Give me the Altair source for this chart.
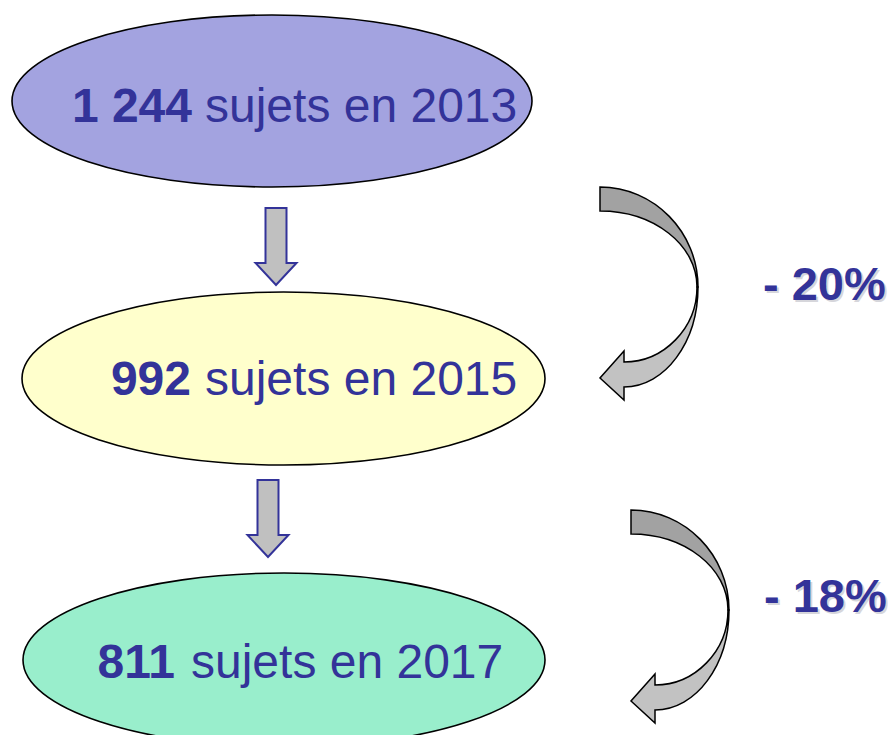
import altair as alt
import pandas as pd

# ---- data (values shown in the diagram) ----
counts = ["1 244", "992", "811"]
years = [2013, 2015, 2017]
changes = ["- 20%", "- 18%"]

# ---- styles ----
TEXT_COLOR = "#333399"
ELLIPSE_FILLS = ["#A3A3E0", "#FFFFCC", "#99EECC"]
FONT = "Liberation Sans"
FS = 48
FS_PCT = 47

# ---- layout (page pixel coordinates) ----
ell_cx = [272, 283.5, 284]
ell_cy = [101, 378.5, 660]
ell_rx = [260, 261.5, 261]
ell_ry = [86, 86.5, 87]
num_right = [192, 191, 175]
word_left = [205, 205, 191]
text_base = [122, 395, 678]
down_cx = [276, 268]
down_cy = [246.5, 518.5]
curve_x = [697, 728]
curve_y = [287, 610]
pct_x = [763, 764]
pct_base = [300, 612]

K = 0.5523


def ellipse_path(rx, ry):
    return (f"M{-rx},0 C{-rx},{-K*ry} {-K*rx},{-ry} 0,{-ry} "
            f"C{K*rx},{-ry} {rx},{-K*ry} {rx},0 "
            f"C{rx},{K*ry} {K*rx},{ry} 0,{ry} "
            f"C{-K*rx},{ry} {-rx},{K*ry} {-rx},0 Z")


DOWN_ARROW = ("M-10.5,-38.5 L10.5,-38.5 L10.5,16.5 L20.5,16.5 L0,38.5 "
              "L-20.5,16.5 L-10.5,16.5 Z")
CURVE_UPPER = "M-97,-100 C-43,-100 1,-55 1,0 L0,0 C0,-42 -43,-76 -97,-76 Z"
CURVE_LOWER = ("M0,0 C0,41 -33,75 -73,75 L-73,64 L-97,91 L-73,113 L-73,100 "
               "C-32,100 1,55 1,0 Z")

X = lambda f: alt.X(f, type="quantitative", scale=alt.Scale(domain=[8, 888], nice=False, zero=False), axis=None)
Y = lambda f: alt.Y(f, type="quantitative", scale=alt.Scale(domain=[8, 735], nice=False, zero=False, reverse=True), axis=None)

ell_df = pd.DataFrame({
    "x": ell_cx, "y": ell_cy,
    "path": [ellipse_path(rx, ry) for rx, ry in zip(ell_rx, ell_ry)],
    "fill": ELLIPSE_FILLS,
})
ellipses = alt.Chart(ell_df).mark_point(
    filled=True, stroke="black", strokeWidth=1.6, opacity=1, fillOpacity=1
).encode(
    x=X("x"), y=Y("y"),
    shape=alt.Shape("path:N", scale=None),
    fill=alt.Fill("fill:N", scale=None),
    size=alt.value(4),
)

num_df = pd.DataFrame({"x": num_right, "y": text_base, "t": counts})
nums = alt.Chart(num_df).mark_text(
    align="right", baseline="alphabetic", font=FONT, fontSize=FS,
    fontWeight="bold", color=TEXT_COLOR
).encode(x=X("x"), y=Y("y"), text="t:N")

word_df = pd.DataFrame({"x": word_left, "y": text_base,
                        "t": [f"sujets en {y}" for y in years]})
words = alt.Chart(word_df).mark_text(
    align="left", baseline="alphabetic", font=FONT, fontSize=FS,
    color=TEXT_COLOR
).encode(x=X("x"), y=Y("y"), text="t:N")

down_df = pd.DataFrame({"x": down_cx, "y": down_cy})
downs = alt.Chart(down_df).mark_point(
    filled=True, shape=DOWN_ARROW, fill="#C0C0C0", stroke="#333399",
    strokeWidth=2, opacity=1, fillOpacity=1
).encode(x=X("x"), y=Y("y"), size=alt.value(4))

curve_df = pd.DataFrame({"x": curve_x, "y": curve_y})
curve_up = alt.Chart(curve_df).mark_point(
    filled=True, shape=CURVE_UPPER, fill="#A2A2A2", stroke="black",
    strokeWidth=1.5, opacity=1, fillOpacity=1, strokeJoin="miter"
).encode(x=X("x"), y=Y("y"), size=alt.value(4))
curve_low = alt.Chart(curve_df).mark_point(
    filled=True, shape=CURVE_LOWER, fill="#C2C2C2", stroke="black",
    strokeWidth=1.5, opacity=1, fillOpacity=1, strokeJoin="miter"
).encode(x=X("x"), y=Y("y"), size=alt.value(4))

pct_df = pd.DataFrame({"x": pct_x, "y": pct_base, "t": changes})
pct_shadow = alt.Chart(pct_df).mark_text(
    align="left", baseline="alphabetic", font=FONT, fontSize=FS_PCT,
    fontWeight="bold", color="#9a9aa8", opacity=0.4, dx=2, dy=2
).encode(x=X("x"), y=Y("y"), text="t:N")
pct = alt.Chart(pct_df).mark_text(
    align="left", baseline="alphabetic", font=FONT, fontSize=FS_PCT,
    fontWeight="bold", color=TEXT_COLOR
).encode(x=X("x"), y=Y("y"), text="t:N")

chart = alt.layer(
    ellipses, nums, words, downs, curve_up, curve_low, pct_shadow, pct
).properties(
    width=880, height=727, padding=0,
    autosize=alt.AutoSizeParams(type="none"),
    background="white",
).configure_view(stroke=None)

chart.save("out.html", embed_options={"renderer": "svg", "actions": False})
